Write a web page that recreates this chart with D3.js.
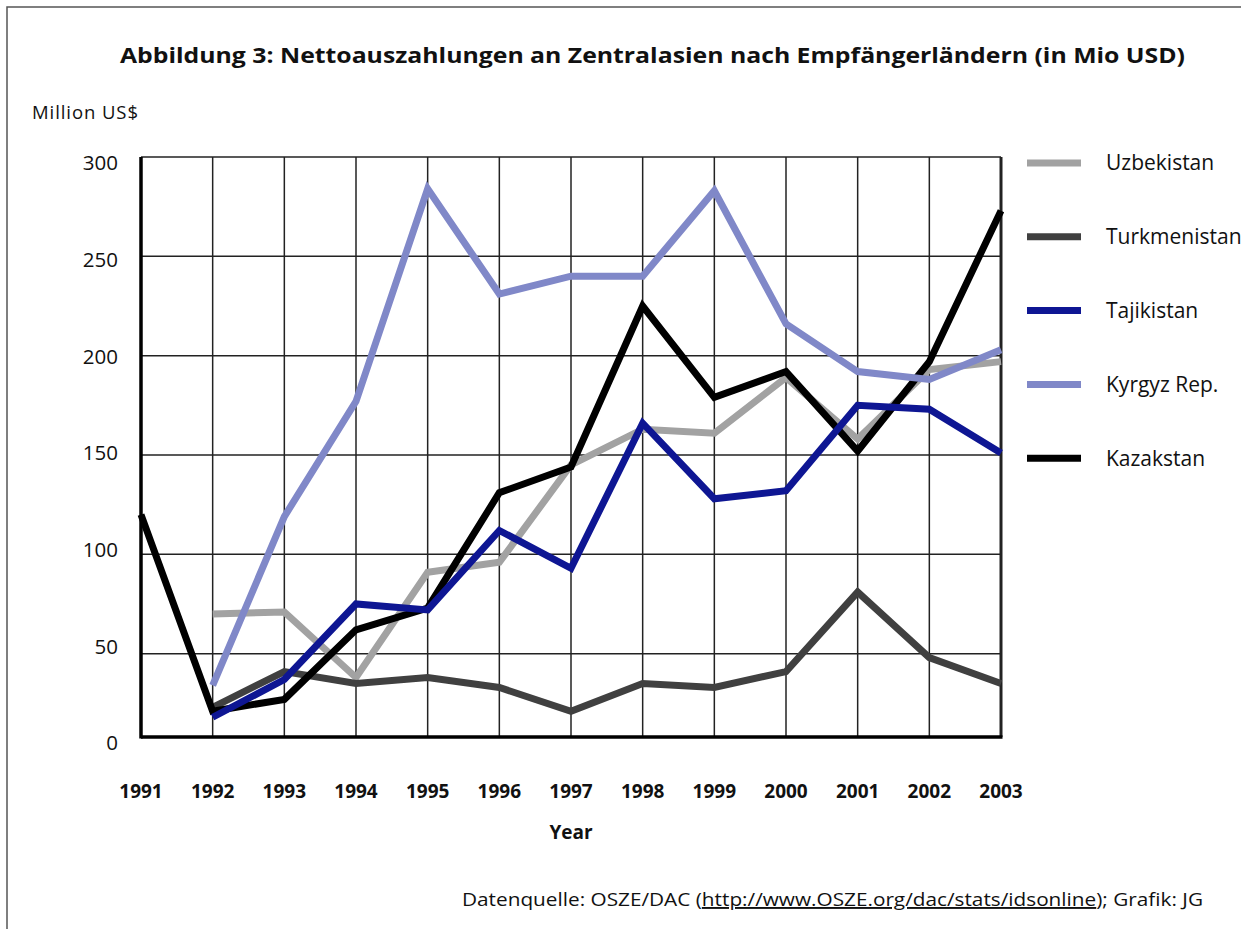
<!DOCTYPE html>
<html>
<head>
<meta charset="utf-8">
<script src="https://cdnjs.cloudflare.com/ajax/libs/d3/7.8.5/d3.min.js"></script>
<style>
  body { margin: 0; background: #fff; }
  svg { display: block; }
  text { font-family: "Open Sans", sans-serif; fill: #111; }
</style>
</head>
<body>
<svg width="1241" height="929"></svg>
<script>
var years = [1991, 1992, 1993, 1994, 1995, 1996, 1997, 1998, 1999, 2000, 2001, 2002, 2003];
var yTicks = [0, 50, 100, 150, 200, 250, 300];

// values in Mio USD, null = no data
var uzbekistan   = [null, 70, 71, 38, 91, 96, 145, 163, 161, 189, 158, 193, 197];
var turkmenistan = [null, 23, 41, 35, 38, 33, 21, 35, 33, 41, 81, 48, 35];
var tajikistan   = [null, 18, 37, 75, 72, 112, 93, 166, 128, 132, 175, 173, 151];
var kyrgyz       = [null, 34, 119, 177, 284, 231, 240, 240, 283, 216, 192, 188, 203];
var kazakstan    = [120, 21, 27, 62, 73, 131, 144, 225, 179, 192, 152, 197, 273];

var seriesNames = ["Uzbekistan", "Turkmenistan", "Tajikistan", "Kyrgyz Rep.", "Kazakstan"];
var seriesValues = [uzbekistan, turkmenistan, tajikistan, kyrgyz, kazakstan];
var seriesColors = ["#a2a2a2", "#404040", "#0e1693", "#8088c8", "#000000"];
var drawOrder = [0, 1, 4, 3, 2];

var svg = d3.select("svg");

// outer frame (only top + left show in the picture)
svg.append("rect")
    .attr("x", 7).attr("y", 7)
    .attr("width", 1260).attr("height", 960)
    .attr("fill", "none")
    .attr("stroke", "#555")
    .attr("stroke-width", 1.5);

svg.append("text")
    .attr("x", 120)
    .attr("y", 63)
    .attr("font-weight", "bold")
    .attr("font-size", 22)
    .attr("textLength", 1065)
    .attr("lengthAdjust", "spacingAndGlyphs")
    .text("Abbildung 3: Nettoauszahlungen an Zentralasien nach Empfängerländern (in Mio USD)");

svg.append("text")
    .attr("x", 32)
    .attr("y", 119)
    .attr("font-size", 18.5)
    .attr("textLength", 106)
    .text("Million US$");

var x = d3.scaleLinear().domain([1991, 2003]).range([141, 1001]);
var y = d3.scaleLinear().domain([0, 300]).range([753, 157]);
// the tick numbers sit a little off the grid lines in the original
var yLabel = d3.scaleLinear().domain([0, 300]).range([743, 163]);
var axisFloor = 8;

var grid = svg.append("g").attr("class", "grid");

grid.selectAll("line.h")
    .data(yTicks.filter(function(d) { return d > 0; }))
    .enter().append("line")
      .attr("class", "h")
      .attr("x1", x(1991)).attr("x2", x(2003))
      .attr("y1", function(d) { return y(d); })
      .attr("y2", function(d) { return y(d); })
      .attr("stroke", "#222")
      .attr("stroke-width", 1.5);

grid.selectAll("line.v")
    .data(years.slice(1))
    .enter().append("line")
      .attr("class", "v")
      .attr("x1", function(d) { return x(d); })
      .attr("x2", function(d) { return x(d); })
      .attr("y1", y(300)).attr("y2", y(axisFloor))
      .attr("stroke", "#222")
      .attr("stroke-width", function(d) { return d == 2003 ? 3 : 1.5; });

var line = d3.line()
    .defined(function(d) { return d.v != null; })
    .x(function(d) { return x(d.year); })
    .y(function(d) { return y(d.v); });

svg.append("g")
    .selectAll("path")
    .data(drawOrder)
    .enter().append("path")
      .attr("fill", "none")
      .attr("stroke", function(i) { return seriesColors[i]; })
      .attr("stroke-width", 7)
      .attr("stroke-linejoin", "miter")
      .attr("d", function(i) {
        return line(years.map(function(yr, j) { return { year: yr, v: seriesValues[i][j] }; }));
      });

// axes lines
svg.append("line")
    .attr("x1", x(1991)).attr("x2", x(1991))
    .attr("y1", y(300)).attr("y2", y(axisFloor) + 1.5)
    .attr("stroke", "#000").attr("stroke-width", 3.5);
svg.append("line")
    .attr("x1", x(1991)).attr("x2", x(2003) + 1.5)
    .attr("y1", y(axisFloor)).attr("y2", y(axisFloor))
    .attr("stroke", "#000").attr("stroke-width", 3.5);

svg.append("g")
    .selectAll("text")
    .data(yTicks)
    .enter().append("text")
      .attr("x", 118)
      .attr("y", function(d) { return yLabel(d); })
      .attr("dy", "0.35em")
      .attr("text-anchor", "end")
      .attr("font-size", 20.5)
      .text(function(d) { return d; });

svg.append("g")
    .selectAll("text")
    .data(years)
    .enter().append("text")
      .attr("x", function(d) { return x(d); })
      .attr("y", 798)
      .attr("text-anchor", "middle")
      .attr("font-weight", "bold")
      .attr("font-size", 19)
      .text(function(d) { return d; });

svg.append("text")
    .attr("x", x(1997))
    .attr("y", 839)
    .attr("text-anchor", "middle")
    .attr("font-weight", "bold")
    .attr("font-size", 19)
    .text("Year");

// legend
var legend = svg.append("g").attr("class", "legend");
var lg = legend.selectAll("g")
    .data(seriesNames)
    .enter().append("g")
      .attr("transform", function(d, i) { return "translate(0," + (163 + i * 73.8) + ")"; });
lg.append("line")
    .attr("x1", 1027).attr("x2", 1081)
    .attr("stroke", function(d, i) { return seriesColors[i]; })
    .attr("stroke-width", 7);
lg.append("text")
    .attr("x", 1106)
    .attr("dy", "0.35em")
    .attr("font-size", 21)
    .text(function(d) { return d; });

var foot = svg.append("text")
    .attr("x", 462)
    .attr("y", 906)
    .attr("font-size", 19)
    .attr("textLength", 741)
    .attr("lengthAdjust", "spacingAndGlyphs");
foot.append("tspan").text("Datenquelle: OSZE/DAC (");
foot.append("tspan").attr("text-decoration", "underline").text("http://www.OSZE.org/dac/stats/idsonline");
foot.append("tspan").text("); Grafik: JG");
</script>
</body>
</html>
